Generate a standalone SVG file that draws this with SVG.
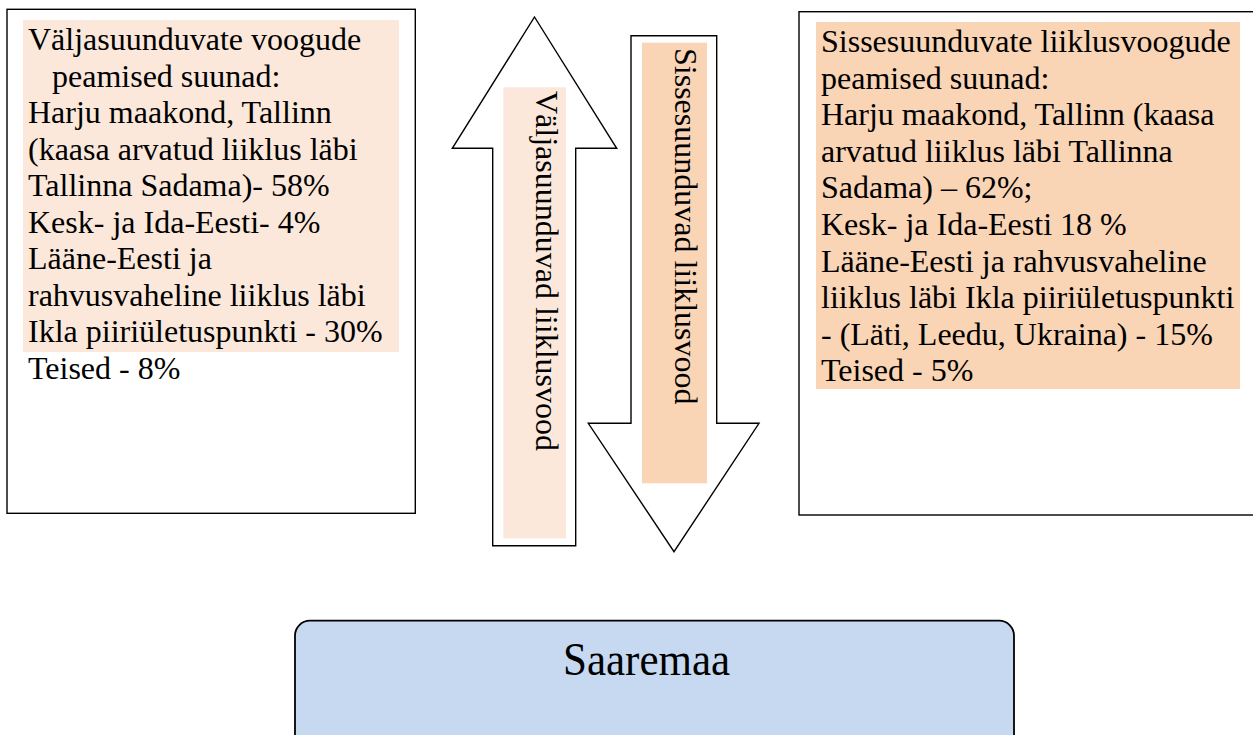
<svg xmlns="http://www.w3.org/2000/svg" width="1253" height="735" viewBox="0 0 1253 735">
<style>
text{font-family:"Liberation Serif","Times New Roman",serif;font-size:32px;fill:#000}
.box{fill:#fff;stroke:#000;stroke-width:1.4}
.arrow{fill:#fff;stroke:#000;stroke-width:1.4;stroke-linejoin:miter}
.hl1{fill:#FBE8DA}
.hl2{fill:#F9D4B5}
</style>
<rect width="1253" height="735" fill="#fff"/>
<g id="out-box">
<rect class="box" x="7" y="9.3" width="408.3" height="504"/>
<rect class="hl1" x="23" y="20" width="376" height="332"/>
<text x="28" y="50">Väljasuunduvate voogude</text>
<text x="52" y="86.5">peamised suunad:</text>
<text x="28" y="123">Harju maakond, Tallinn</text>
<text x="28" y="159.5">(kaasa arvatud liiklus läbi</text>
<text x="28" y="196">Tallinna Sadama)- 58%</text>
<text x="28" y="232.5">Kesk- ja Ida-Eesti- 4%</text>
<text x="28" y="269">Lääne-Eesti ja</text>
<text x="28" y="305.5">rahvusvaheline liiklus läbi</text>
<text x="28" y="342">Ikla piiriületuspunkti - 30%</text>
<text x="28" y="378.5">Teised - 8%</text>
</g>
<g id="in-box">
<rect class="box" x="799" y="11.7" width="460" height="503.3"/>
<rect class="hl2" x="816" y="22" width="424" height="367"/>
<text x="821" y="52">Sissesuunduvate liiklusvoogude</text>
<text x="821" y="88.6">peamised suunad:</text>
<text x="821" y="125.2">Harju maakond, Tallinn (kaasa</text>
<text x="821" y="161.8">arvatud liiklus läbi Tallinna</text>
<text x="821" y="198.4">Sadama) – 62%;</text>
<text x="821" y="235">Kesk- ja Ida-Eesti 18 %</text>
<text x="821" y="271.6">Lääne-Eesti ja rahvusvaheline</text>
<text x="821" y="308.2">liiklus läbi Ikla piiriületuspunkti</text>
<text x="821" y="344.8">- (Läti, Leedu, Ukraina) - 15%</text>
<text x="821" y="381.4">Teised - 5%</text>
</g>
<g id="connectors">
<g id="arrow-out">
<polygon class="arrow" points="534.5,17 616.7,148.3 575.7,148.3 575.7,545.7 492.7,545.7 492.7,148.3 452.3,148.3"/>
<rect class="hl1" x="503.3" y="87.3" width="62.7" height="451"/>
<text transform="translate(535.5,91) rotate(90)">Väljasuunduvad liiklusvood</text>
</g>
<g id="arrow-in">
<polygon class="arrow" points="631,35.7 716.7,35.7 716.7,423.3 759,423.3 674,551.7 588.3,423.3 631,423.3"/>
<rect class="hl2" x="642" y="42.7" width="65" height="440.6"/>
<text transform="translate(675,48) rotate(90)">Sissesuunduvad liiklusvood</text>
</g>
</g>
<g id="saaremaa">
<rect x="295" y="620.7" width="719" height="150" rx="15" ry="15" fill="#C6D9F1" stroke="#000" stroke-width="1.8"/>
<text transform="translate(563,675) scale(1,1.08)" style="font-size:43px">Saaremaa</text>
</g>
</svg>
